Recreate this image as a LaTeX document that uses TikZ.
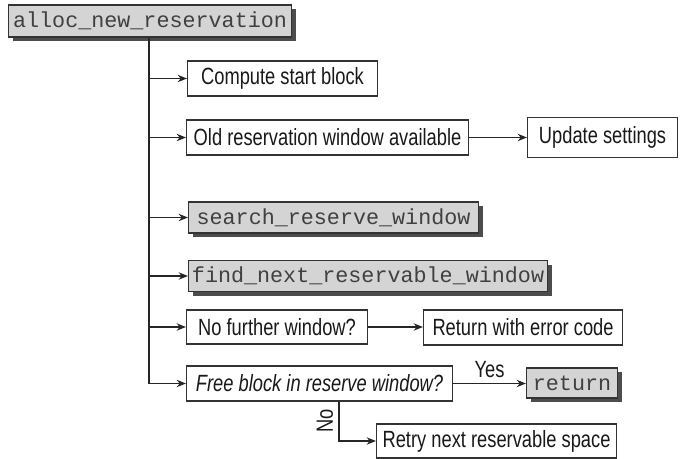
\documentclass[tikz,border=0pt]{standalone}
\usepackage{fontspec}
\setmainfont{Liberation Sans}[FakeStretch=0.78]
\newfontfamily\codefont{Liberation Mono}
\usetikzlibrary{arrows.meta,shadows}
\newdimen\px \px=0.75pt
\begin{document}
\begin{tikzpicture}[x=0.75pt,y=-0.75pt,
  box/.style={draw=black!80,line width=0.8pt,fill=white,anchor=west,inner sep=0pt,
    text=black!90,font=\fontsize{17.6}{19}\selectfont},
  code/.style={box,fill=black!17,text=black!75,font=\codefont\fontsize{16.3}{18}\selectfont,
    drop shadow={shadow xshift=3.4pt,shadow yshift=-3.2pt,fill=black!70,opacity=1}},
  trunk/.style={line width=1.8pt,black!85},
  arr/.style={line width=1.1pt,black!85,-{Stealth[length=7pt,width=5.5pt]}},
  lbl/.style={font=\fontsize{17.6}{19}\selectfont,inner sep=0pt,text=black!90}
]
\useasboundingbox (0,0) rectangle (680,459);
\node[code,minimum width=283\px,minimum height=32\px] (top) at (8,21) {alloc\_new\_reservation};
\node[box,minimum width=190\px,minimum height=35\px] (cs) at (187,78.5) {Compute start block};
\node[box,minimum width=282\px,minimum height=35\px] (old) at (186,137.5) {Old reservation window available};
\node[box,minimum width=150\px,minimum height=40\px] (upd) at (527,137.5) {Update settings};
\node[code,minimum width=290\px,minimum height=31\px] (srw) at (188,217.5) {search\_reserve\_window};
\node[code,minimum width=359\px,minimum height=31\px] (fnr) at (188,276) {find\_next\_reservable\_window};
\node[box,minimum width=181\px,minimum height=34\px] (nfw) at (186,327) {No further window?};
\node[box,minimum width=199\px,minimum height=35\px] (rec) at (423,327.5) {Return with error code};
\node[box,minimum width=266\px,minimum height=35\px,font=\itshape\fontsize{17.6}{19}\selectfont] (fb) at (186,383.5) {Free block in reserve window?};
\node[code,minimum width=91\px,minimum height=30\px] (ret) at (526,383) {return};
\node[box,minimum width=240\px,minimum height=34\px] (rt) at (376,441) {Retry next reservable space};
\coordinate (tb) at (149,383.5);
\draw[trunk] (top.south -| tb) -- (tb);
\draw[arr] (tb) -- (fb.west);
\foreach \n in {cs,old,srw,fnr,nfw}
  \draw[arr] (\n.west -| tb) -- (\n.west);
\draw[arr] (old.east) -- (upd.west |- old.east);
\draw[arr] (nfw.east) -- (rec.west |- nfw.east);
\draw[arr] (fb.east) -- node[lbl,above=4pt] (yes) {Yes} (ret.west |- fb.east);
\coordinate (nb) at (339,441);
\draw[arr] (fb.south -| nb) -- (nb) -- (rt.west);
\node[lbl,rotate=90] (no) at (325,421) {No};
\end{tikzpicture}
\end{document}
